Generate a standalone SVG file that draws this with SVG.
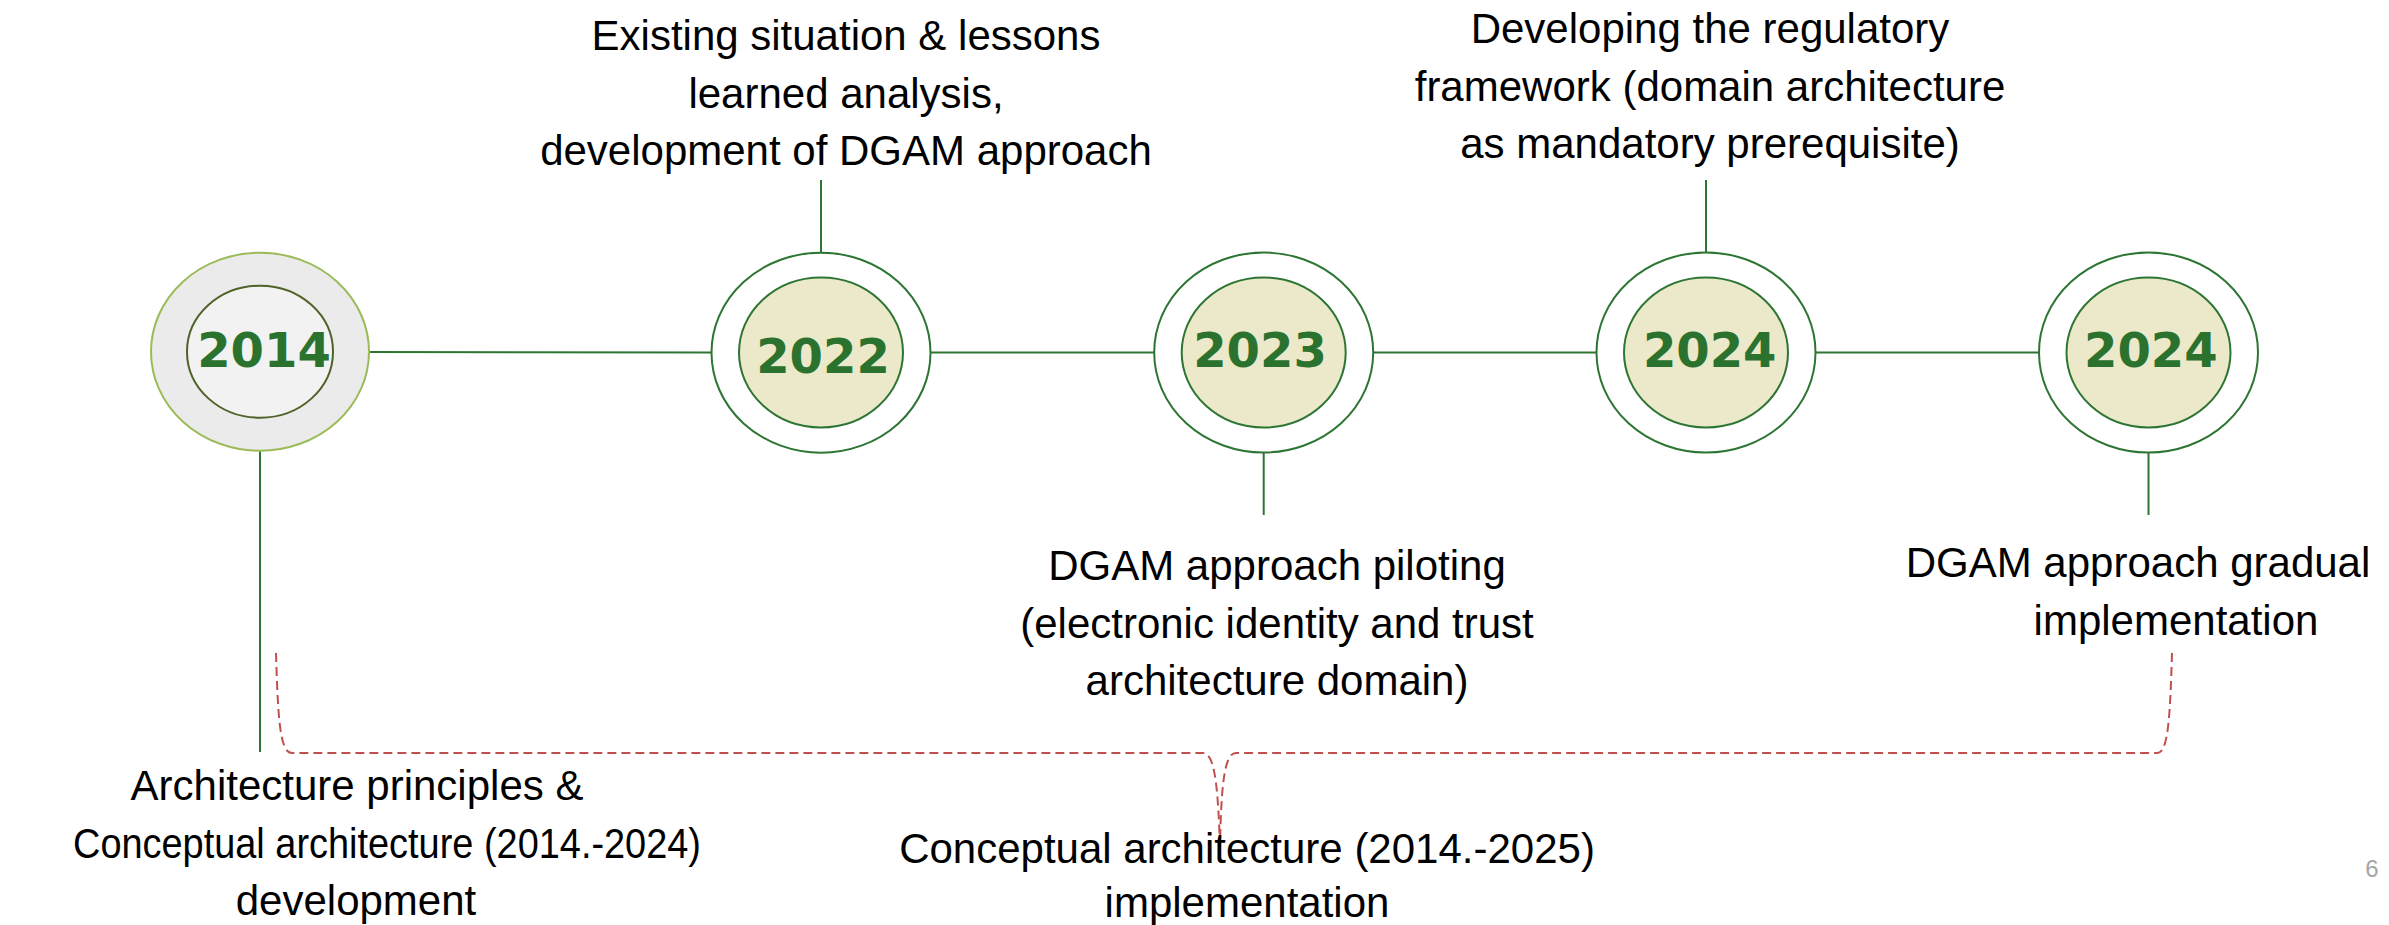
<svg xmlns="http://www.w3.org/2000/svg" width="2389" height="925" viewBox="0 0 2389 925">
<style>
.outer{fill:#ffffff;stroke:#2d7533;stroke-width:2}
.inner{fill:#ebe9c9;stroke:#2d7533;stroke-width:2}
.year{font-family:"DejaVu Sans",Verdana,sans-serif;font-weight:bold;font-size:48px;fill:#2c722f;text-anchor:middle}
.lbl{font-family:"Liberation Sans",Arial,sans-serif;font-size:42px;fill:#000000;text-anchor:middle}
.conn{stroke:#2d7533;stroke-width:2;fill:none}
.brace{stroke:#c0504d;stroke-width:2;fill:none;stroke-dasharray:9 5}
</style>
<rect width="2389" height="925" fill="#ffffff"/>
<g id="connectors">
<line class="conn" x1="369" y1="352" x2="712" y2="352.5"/>
<line class="conn" x1="931" y1="352.5" x2="1154" y2="352.5"/>
<line class="conn" x1="1373" y1="352.5" x2="1597" y2="352.5"/>
<line class="conn" x1="1815" y1="352.5" x2="2039" y2="352.5"/>
<line class="conn" x1="260" y1="418" x2="260" y2="752"/>
<line class="conn" x1="821" y1="180" x2="821" y2="278"/>
<line class="conn" x1="1263.7" y1="427" x2="1263.7" y2="515"/>
<line class="conn" x1="1706" y1="180" x2="1706" y2="278"/>
<line class="conn" x1="2148.5" y1="427" x2="2148.5" y2="515"/>
<path class="brace" d="M276,653 C278,720 280,753 292,753 L1203,753 C1213,753 1218,775 1220,850"/>
<path class="brace" d="M2172,653 C2170,720 2168,753 2157,753 L1236,753 C1226,753 1221,775 1220,850"/>
</g>
<g id="node-2014">
<ellipse cx="260" cy="351.7" rx="109" ry="99" fill="#ebebeb" stroke="#9bbb59" stroke-width="2"/>
<ellipse cx="260" cy="351.7" rx="73" ry="66" fill="#f2f2f2" stroke="#4f6228" stroke-width="2"/>
<text class="year" x="264" y="366.7">2014</text>
</g>
<g id="node-2022">
<ellipse class="outer" cx="821" cy="352.7" rx="109.5" ry="100"/>
<ellipse class="inner" cx="821" cy="352.5" rx="82" ry="75"/>
<text class="year" x="823" y="372.7">2022</text>
</g>
<g id="node-2023">
<ellipse class="outer" cx="1263.7" cy="352.5" rx="109.5" ry="100"/>
<ellipse class="inner" cx="1263.7" cy="352.5" rx="82" ry="75"/>
<text class="year" x="1260" y="367.3">2023</text>
</g>
<g id="node-2024a">
<ellipse class="outer" cx="1706" cy="352.5" rx="109.5" ry="100"/>
<ellipse class="inner" cx="1706" cy="352.5" rx="82" ry="75"/>
<text class="year" x="1709.7" y="367.3">2024</text>
</g>
<g id="node-2024b">
<ellipse class="outer" cx="2148.5" cy="352.5" rx="109.5" ry="100"/>
<ellipse class="inner" cx="2148.5" cy="352.5" rx="82" ry="75"/>
<text class="year" x="2150.8" y="366.7">2024</text>
</g>
<g id="label-2022">
<text class="lbl" x="846" y="50">Existing situation &amp; lessons</text>
<text class="lbl" x="846" y="107.5">learned analysis,</text>
<text class="lbl" x="846" y="165">development of DGAM approach</text>
</g>
<g id="label-2024a">
<text class="lbl" x="1710" y="43">Developing the regulatory</text>
<text class="lbl" x="1710" y="100.5">framework (domain architecture</text>
<text class="lbl" x="1710" y="158">as mandatory prerequisite)</text>
</g>
<g id="label-2023">
<text class="lbl" x="1277" y="580">DGAM approach piloting</text>
<text class="lbl" x="1277" y="637.5">(electronic identity and trust</text>
<text class="lbl" x="1277" y="695">architecture domain)</text>
</g>
<g id="label-2024b">
<text class="lbl" x="2138" y="577">DGAM approach gradual</text>
<text class="lbl" x="2176" y="634.5">implementation</text>
</g>
<g id="label-2014">
<text class="lbl" x="357" y="800">Architecture principles &amp;</text>
<text class="lbl" x="387" y="857.5" textLength="628" lengthAdjust="spacingAndGlyphs">Conceptual architecture (2014.-2024)</text>
<text class="lbl" x="356" y="915">development</text>
</g>
<g id="label-implementation">
<text class="lbl" x="1247" y="863">Conceptual architecture (2014.-2025)</text>
<text class="lbl" x="1247" y="917">implementation</text>
</g>
<text x="2372" y="877" font-family="Liberation Sans, Arial, sans-serif" font-size="24" fill="#a6a6a6" text-anchor="middle">6</text>
</svg>
